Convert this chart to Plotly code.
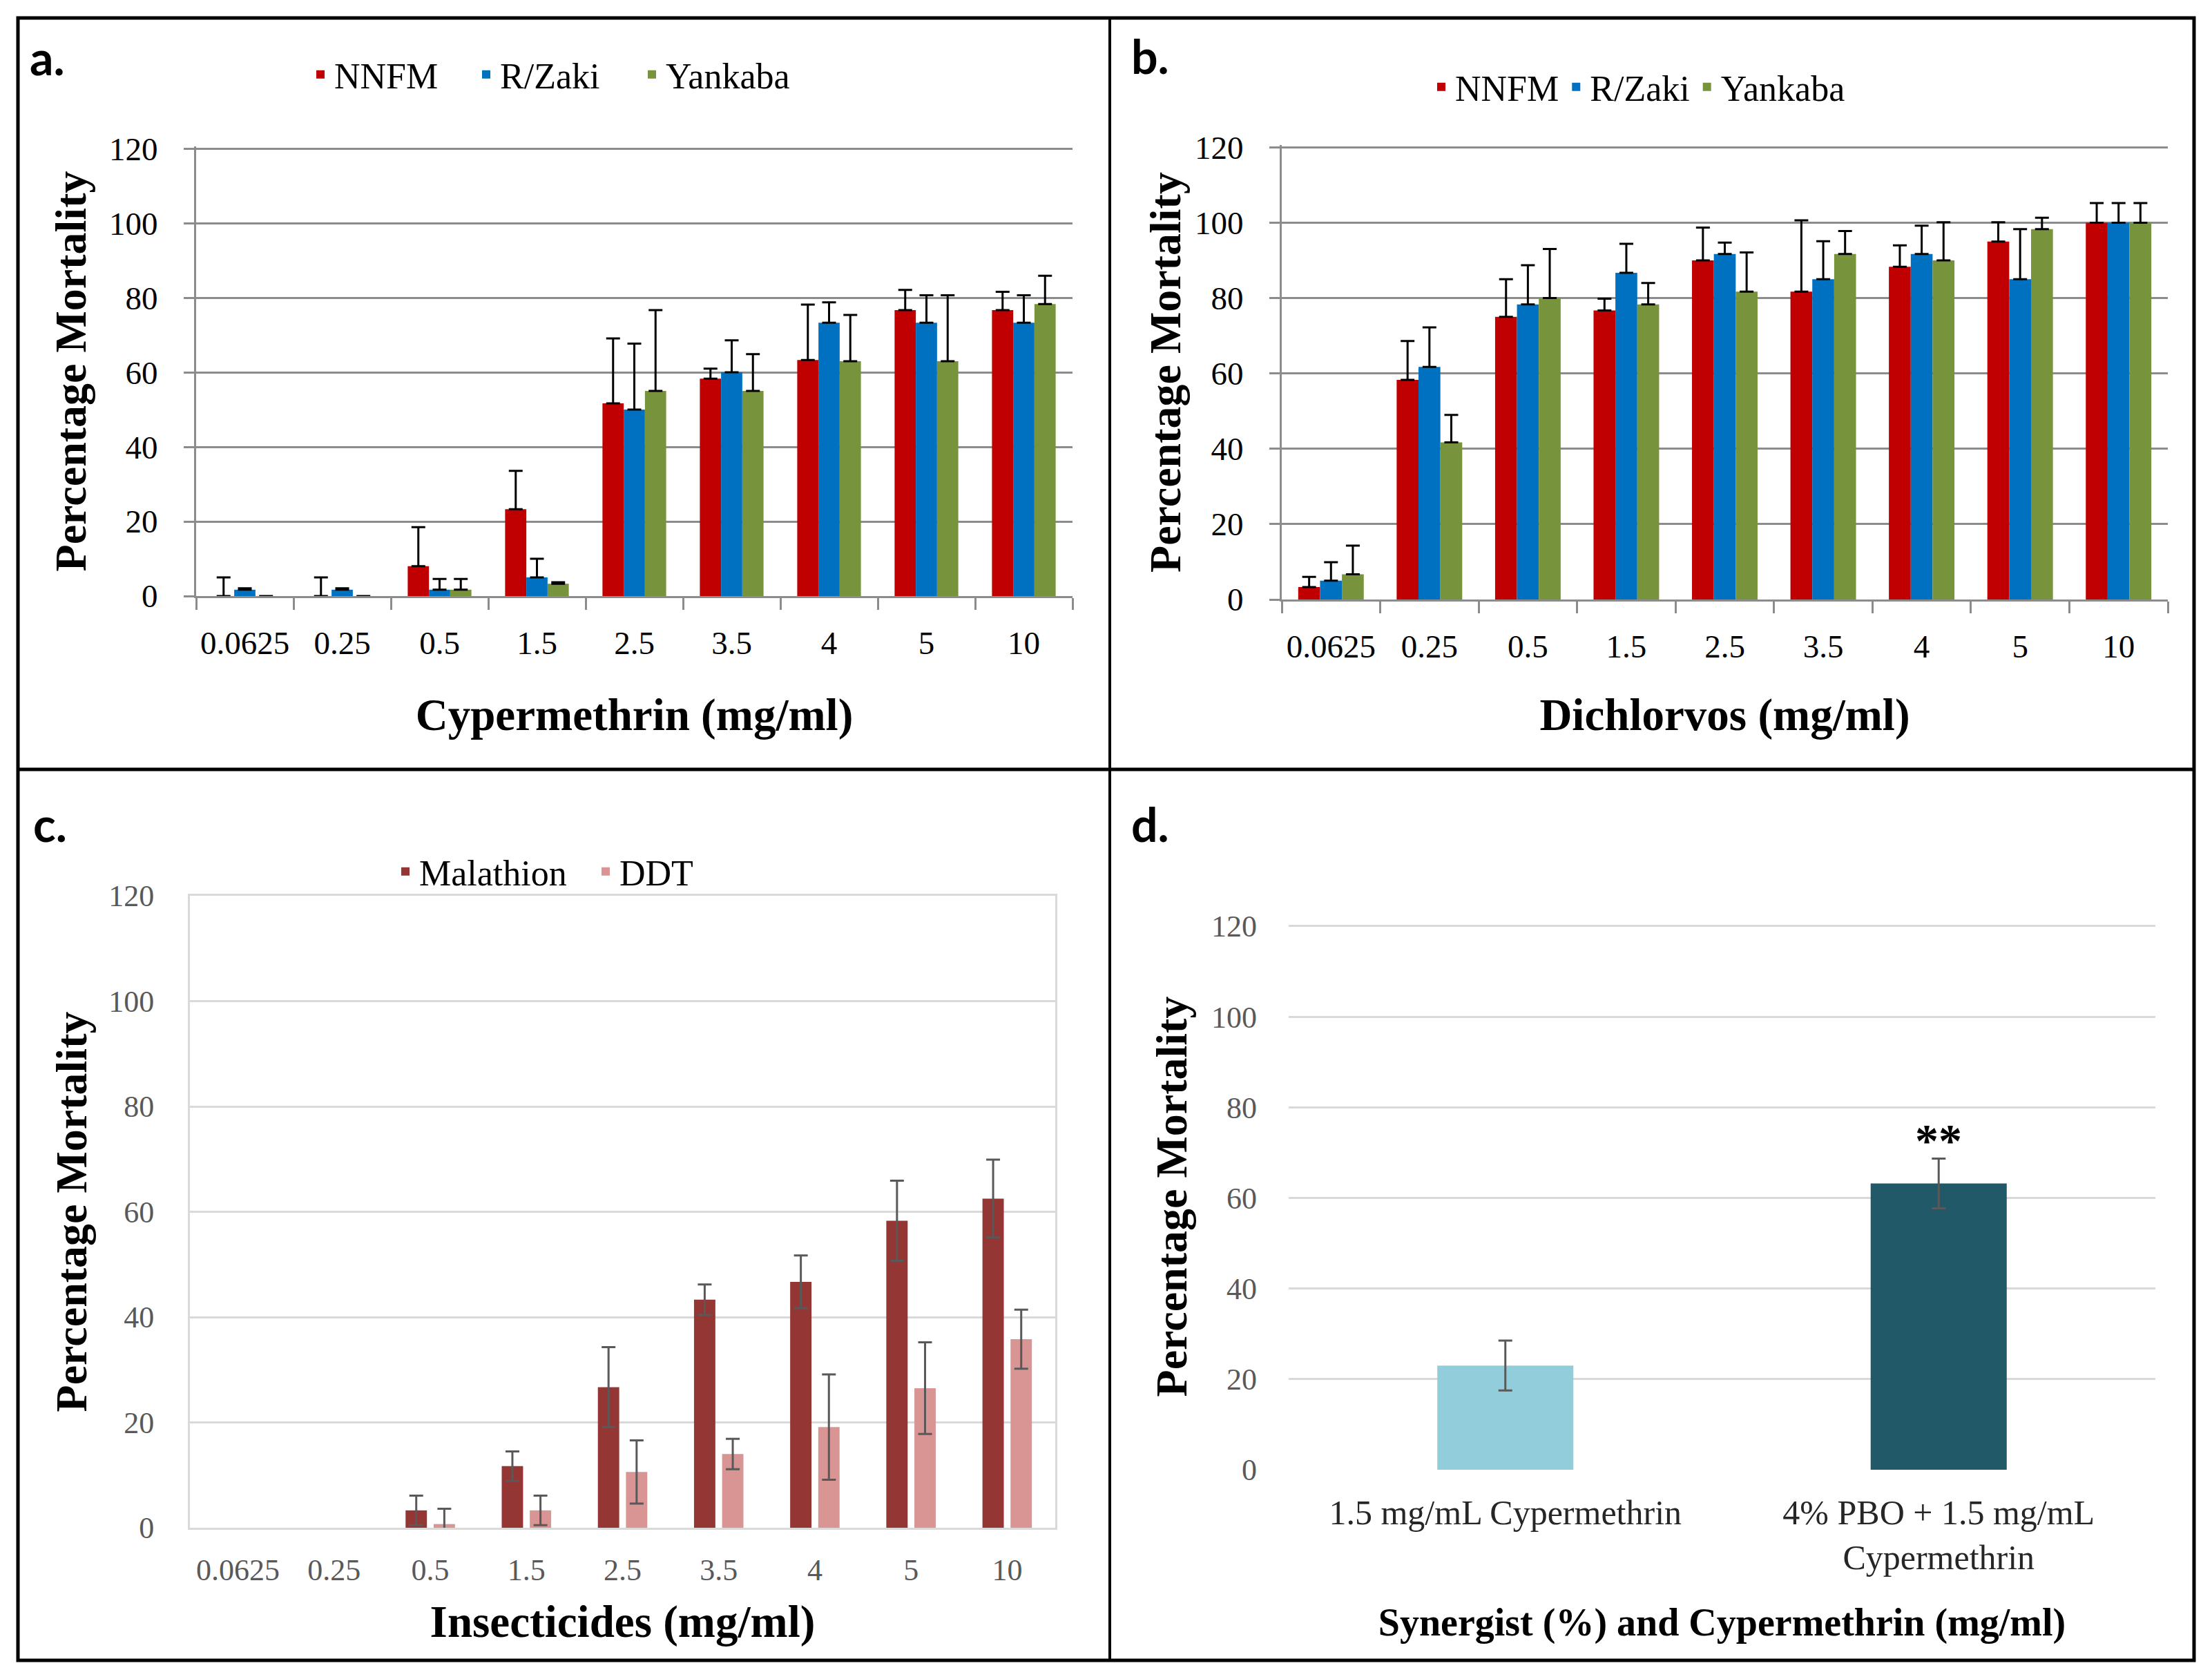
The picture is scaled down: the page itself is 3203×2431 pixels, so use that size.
import numpy as np
import plotly.graph_objects as go

W, H = 3203, 2431

# ---------------- data ----------------
conc = ["0.0625", "0.25", "0.5", "1.5", "2.5", "3.5", "4", "5", "10"]

# Panel a - Cypermethrin
cyp_nnfm = [0, 0, 8.0, 23.3, 51.7, 58.3, 63.3, 76.7, 76.7]
cyp_nnfm_err = [5.0, 5.0, 10.5, 10.3, 17.4, 2.7, 14.9, 5.4, 4.9]
cyp_rzaki = [1.7, 1.7, 1.7, 5.0, 50.0, 60.0, 73.3, 73.3, 73.3]
cyp_rzaki_err = [0.4, 0.4, 2.9, 5.0, 17.7, 8.6, 5.5, 7.4, 7.4]
cyp_yank = [0, 0, 1.7, 3.3, 55.0, 55.0, 63.0, 63.0, 78.3]
cyp_yank_err = [None, None, 2.9, 0.4, 21.7, 9.9, 12.4, 17.7, 7.6]

# Panel b - Dichlorvos
dic_nnfm = [3.3, 58.3, 75.0, 76.7, 90.0, 81.7, 88.3, 95.0, 100]
dic_nnfm_err = [2.7, 10.3, 10.0, 3.1, 8.7, 18.9, 5.7, 5.1, 5.2]
dic_rzaki = [5.0, 61.7, 78.3, 86.7, 91.7, 85.0, 91.7, 85.0, 100]
dic_rzaki_err = [4.9, 10.5, 10.4, 7.7, 3.0, 10.1, 7.5, 13.3, 5.2]
dic_yank = [6.7, 41.7, 80.0, 78.3, 81.7, 91.7, 90.0, 98.3, 100]
dic_yank_err = [7.6, 7.3, 13.0, 5.7, 10.4, 6.1, 10.1, 3.0, 5.2]

# Panel c - Malathion / DDT
mal = [0, 0, 3.3, 11.7, 26.7, 43.3, 46.7, 58.3, 62.5]
mal_err = [None, None, 2.8, 2.8, 7.6, 2.9, 5.0, 7.6, 7.4]
ddt = [0, 0, 0.7, 3.3, 10.6, 14.0, 19.1, 26.5, 35.8]
ddt_err = [None, None, 2.9, 2.8, 6.0, 2.9, 10.0, 8.7, 5.6]

# Panel d - synergist
syn_labels = ["1.5 mg/mL Cypermethrin", "4% PBO + 1.5 mg/mL<br>Cypermethrin"]
syn_vals = [23.0, 63.2]
syn_err = [5.5, 5.5]

y_ticks = [0, 20, 40, 60, 80, 100, 120]

# ---------------- helpers ----------------
OFF = 8  # page body margin compensation (px)


def px(x):
    return (x - OFF) / W


def py(y):
    return 1 - (y - OFF) / H


def arr(v):
    return np.array([np.nan if e is None else e for e in v], dtype=float)


SERIF = "Liberation Serif"
SANS = "Lato"

C_RED, C_BLUE, C_GREEN = "#C00000", "#0070C0", "#77933C"
C_MAL, C_DDT = "#943634", "#D99594"
C_D1, C_D2 = "#92CDDC", "#215968"

fig = go.Figure()


def add_bar(x, y, err, name, color, xa, ya, legend, width, offset, sym, ecolor):
    e = arr(err)
    if sym:
        ey = dict(type="data", array=e, symmetric=True, color=ecolor,
                  thickness=3, width=10)
    else:
        ey = dict(type="data", array=e, arrayminus=np.zeros(len(e)),
                  symmetric=False, color=ecolor, thickness=3, width=10)
    fig.add_trace(go.Bar(x=x, y=y, name=name, marker=dict(color=color, line=dict(width=0)),
                         error_y=ey, xaxis=xa, yaxis=ya, legend=legend,
                         width=width, offset=offset))


# Panel a
bw3 = 0.218
offs3 = [-1.5 * bw3, -0.5 * bw3, 0.5 * bw3]
add_bar(conc, cyp_nnfm, cyp_nnfm_err, "NNFM", C_RED, "x", "y", "legend", bw3, offs3[0], False, "black")
add_bar(conc, cyp_rzaki, cyp_rzaki_err, "R/Zaki", C_BLUE, "x", "y", "legend", bw3, offs3[1], False, "black")
add_bar(conc, cyp_yank, cyp_yank_err, "Yankaba", C_GREEN, "x", "y", "legend", bw3, offs3[2], False, "black")

# Panel b
bwb = 0.222
offsb = [-1.5 * bwb, -0.5 * bwb, 0.5 * bwb]
add_bar(conc, dic_nnfm, dic_nnfm_err, "NNFM", C_RED, "x2", "y2", "legend2", bwb, offsb[0], False, "black")
add_bar(conc, dic_rzaki, dic_rzaki_err, "R/Zaki", C_BLUE, "x2", "y2", "legend2", bwb, offsb[1], False, "black")
add_bar(conc, dic_yank, dic_yank_err, "Yankaba", C_GREEN, "x2", "y2", "legend2", bwb, offsb[2], False, "black")

# Panel c
bwc = 0.222
gapc = 0.07
add_bar(conc, mal, mal_err, "Malathion", C_MAL, "x3", "y3", "legend3", bwc, -bwc - gapc / 2, True, "#595959")
add_bar(conc, ddt, ddt_err, "DDT", C_DDT, "x3", "y3", "legend3", bwc, gapc / 2, True, "#595959")

# Panel d
bwd = 0.314
fig.add_trace(go.Bar(x=syn_labels, y=syn_vals, marker=dict(color=[C_D1, C_D2], line=dict(width=0)),
                     error_y=dict(type="data", array=syn_err, symmetric=True, color="#595959",
                                  thickness=3, width=10),
                     xaxis="x4", yaxis="y4", width=bwd, offset=-bwd / 2, showlegend=False,
                     name="Synergist"))

# ---------------- axes ----------------
GRID_AB = "#8C8C8C"
GRID_CD = "#D9D9D9"
tickfont_ab = dict(family=SERIF, size=47, color="black")
tickfont_cd = dict(family=SERIF, size=44, color="#595959")
title_font = dict(family=SERIF, size=65, color="black", weight="bold")
ytitle_font = dict(family=SERIF, size=64, color="black", weight="bold")
YR = [0, 120.6]

common_y_ab = dict(range=YR, tickvals=y_ticks, showgrid=True, gridcolor=GRID_AB, gridwidth=3,
                   showline=True, linecolor=GRID_AB, linewidth=3, ticks="outside",
                   ticklen=15, tickwidth=3, tickcolor=GRID_AB, tickfont=tickfont_ab,
                   ticklabelstandoff=28, zeroline=False, fixedrange=True)
common_x_ab = dict(type="category", showline=True, linecolor=GRID_AB, linewidth=3,
                   ticks="outside", tickson="boundaries", ticklen=17, tickwidth=3,
                   tickcolor=GRID_AB, tickfont=tickfont_ab, ticklabelstandoff=25,
                   showgrid=False)

fig.update_layout(
    xaxis=dict(domain=[px(284), px(1553)], anchor="y",
               title=dict(text="Cypermethrin (mg/ml)", font=title_font, standoff=56),
               **common_x_ab),
    yaxis=dict(domain=[py(863), py(212)], anchor="x",
               title=dict(text="Percentage Mortality", font=ytitle_font, standoff=13),
               **common_y_ab),
    xaxis2=dict(domain=[px(1856), px(3139)], anchor="y2",
                title=dict(text="Dichlorvos (mg/ml)", font=title_font, standoff=51),
                **common_x_ab),
    yaxis2=dict(domain=[py(868), py(210)], anchor="x2",
                title=dict(text="Percentage Mortality", font=ytitle_font, standoff=0),
                **common_y_ab),
    xaxis3=dict(domain=[px(275), px(1528)], anchor="y3", type="category",
                showline=True, mirror=True, linecolor=GRID_CD, linewidth=3, ticks="",
                tickfont=tickfont_cd, ticklabelstandoff=20, showgrid=False,
                title=dict(text="Insecticides (mg/ml)", font=title_font, standoff=28)),
    yaxis3=dict(domain=[py(2212), py(1297)], anchor="x3", range=[0, 120], tickvals=y_ticks,
                showgrid=True, gridcolor=GRID_CD, gridwidth=3, showline=True, mirror=True,
                linecolor=GRID_CD, linewidth=3, ticks="", tickfont=tickfont_cd,
                ticklabelstandoff=40, zeroline=False,
                title=dict(text="Percentage Mortality", font=ytitle_font, standoff=11)),
    xaxis4=dict(domain=[px(1866), px(3121)], anchor="y4", type="category",
                showline=False, ticks="", showgrid=False,
                tickfont=dict(family=SERIF, size=50, color="#262626"), ticklabelstandoff=28,
                title=dict(text="Synergist (%) and Cypermethrin (mg/ml)",
                           font=dict(family=SERIF, size=56, color="black", weight="bold"),
                           standoff=46)),
    yaxis4=dict(domain=[py(2128), py(1337)], anchor="x4", range=YR, tickvals=y_ticks,
                showgrid=True, gridcolor=GRID_CD, gridwidth=3, showline=False, ticks="",
                tickfont=tickfont_cd, ticklabelstandoff=45, zeroline=False,
                title=dict(text="Percentage Mortality", font=ytitle_font, standoff=14)),
)

legend_common = dict(orientation="h", xanchor="center", yanchor="middle",
                     font=dict(family=SERIF, size=52, color="black"),
                     bgcolor="rgba(0,0,0,0)", itemwidth=30, tracegroupgap=0)
fig.update_layout(
    legend=dict(x=px(804), y=py(108), entrywidth=195, **legend_common),
    legend2=dict(x=px(2372), y=py(126), **legend_common),
    legend3=dict(x=px(857), y=py(1262), entrywidth=245, **legend_common),
)

# ---------------- panel labels and annotations ----------------
labels = [("a.", 41, 82), ("b.", 1636, 80), ("c.", 46, 1192), ("d.", 1636, 1192)]
ann = []
for t, xx, yy in labels:
    ann.append(dict(text=t, x=px(xx), y=py(yy), xref="paper", yref="paper",
                    xanchor="left", yanchor="middle", showarrow=False,
                    font=dict(family=SANS, size=68, color="black", weight="bold")))
ann.append(dict(text="**", x=syn_labels[1], y=syn_vals[1] + syn_err[1], xref="x4", yref="y4",
                xanchor="center", yanchor="bottom", yshift=-14, showarrow=False,
                font=dict(family=SERIF, size=68, color="black", weight="bold")))

# ---------------- borders ----------------
shapes = [
    dict(type="rect", xref="paper", yref="paper", x0=px(26), x1=px(3177), y0=py(2404), y1=py(26),
         line=dict(color="black", width=5)),
    dict(type="line", xref="paper", yref="paper", x0=px(1607), x1=px(1607), y0=py(2404), y1=py(26),
         line=dict(color="black", width=4)),
    dict(type="line", xref="paper", yref="paper", x0=px(26), x1=px(3177), y0=py(1114), y1=py(1114),
         line=dict(color="black", width=5)),
]

fig.update_layout(
    width=W, height=H, autosize=False,
    margin=dict(l=0, r=0, t=0, b=0, pad=0, autoexpand=False),
    paper_bgcolor="white", plot_bgcolor="white",
    annotations=ann, shapes=shapes,
    barmode="group",
)

fig.write_html("out.html")
